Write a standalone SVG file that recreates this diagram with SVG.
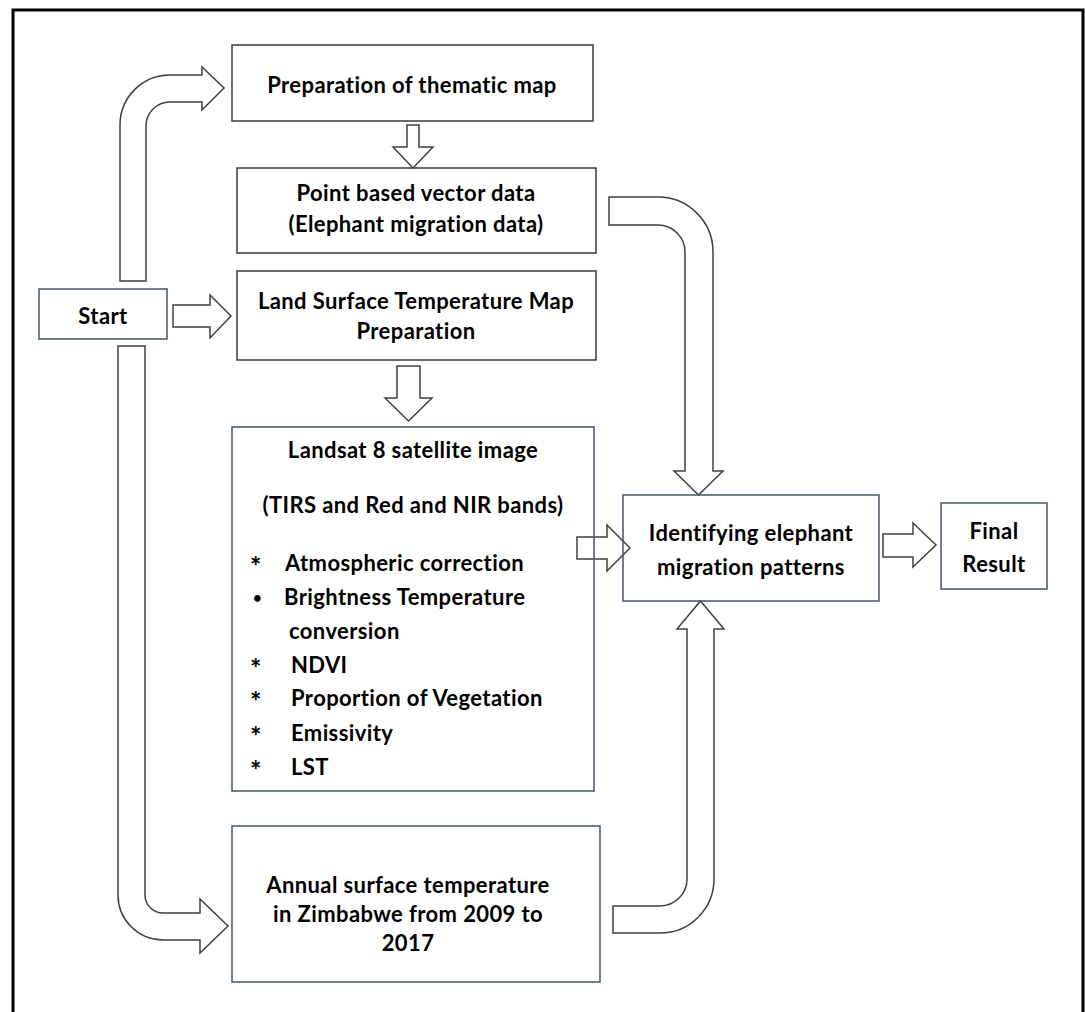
<svg xmlns="http://www.w3.org/2000/svg" width="1085" height="1012" viewBox="0 0 1085 1012">
<style>
.bg{fill:#ffffff}
.frame{fill:none;stroke:#000000;stroke-width:3}
.box{fill:none;stroke:#3a3a3a;stroke-width:1.5}
.boxb{fill:none;stroke:#44546a;stroke-width:1.5}
.arr{fill:#ffffff;stroke:#404040;stroke-width:1.5;stroke-linejoin:miter}
.arrn{fill:none;stroke:#404040;stroke-width:1.5}
text{font-family:Lato,"Open Sans","Liberation Sans",sans-serif;font-weight:700;font-size:22px;letter-spacing:0.4px;fill:#000000;font-variant-ligatures:none}
.c{text-anchor:middle}
.ast{font-size:27px}
.dot{font-size:15px}
</style>
<rect class="bg" x="0" y="0" width="1085" height="1012"/>
<rect class="frame" x="13" y="10" width="1070" height="1020"/>
<g id="connectors">
<path id="a-start-thematic" class="arr" d="M120,281 V125 A50,50 0 0 1 170,75 H202 V67 L224,88 L202,110 V102 H170 A24,24 0 0 0 146,126 V281 Z"/>
<path id="a-thematic-point" class="arr" d="M407,125 H419 V147 H433 L413,168 L393,147 H407 Z"/>
<path id="a-start-lst" class="arr" d="M173,305 H210 V295 L231,316 L210,338 V327 H173 Z"/>
<path id="a-lst-landsat" class="arr" d="M397,366 H420 V398 H432 L408.5,421 L385,398 H397 Z"/>
<path id="a-point-identify" class="arr" d="M609,197 H658 A55,55 0 0 1 713,252 V471 H723 L698.5,495 L674,471 H685 V252 A27,27 0 0 0 658,225 H609 Z"/>
<path id="a-landsat-identify" class="arrn" d="M577,537 H607 V525 L630,548 L607,571 V559 H577 Z"/>
<path id="a-identify-final" class="arr" d="M883,534 H913 V523 L936,545 L913,567 V557 H883 Z"/>
<path id="a-start-annual" class="arr" d="M118,346 V895 A45,45 0 0 0 163,940 H200 V953 L228,926 L200,899 V913 H163 A18,18 0 0 1 145,895 V346 Z"/>
<path id="a-annual-identify" class="arr" d="M613,906 H660 A27,27 0 0 0 687,879 V629 H677 L700.5,601 L724,629 H714 V879 A54,54 0 0 1 660,933 H613 Z"/>
</g>
<g id="node-thematic">
<rect class="box" x="232" y="45" width="361" height="76"/>
<text class="c" x="412" y="93">Preparation of thematic map</text>
</g>
<g id="node-point">
<rect class="box" x="237" y="168" width="359" height="85"/>
<text class="c" x="416" y="201">Point based vector data</text>
<text class="c" x="416" y="232">(Elephant migration data)</text>
</g>
<g id="node-start">
<rect class="boxb" x="39" y="289" width="128" height="50"/>
<text class="c" x="103" y="324">Start</text>
</g>
<g id="node-lst">
<rect class="box" x="237" y="271" width="359" height="89"/>
<text class="c" x="416" y="309">Land Surface Temperature Map</text>
<text class="c" x="416" y="339">Preparation</text>
</g>
<g id="node-landsat">
<rect class="boxb" x="232" y="427" width="362" height="364"/>
<text class="c" x="413" y="458">Landsat 8 satellite image</text>
<text class="c" x="413" y="513">(TIRS and Red and NIR bands)</text>
<text class="ast" x="250" y="576">*</text><text x="285" y="571">Atmospheric correction</text>
<text class="dot" x="253" y="603">•</text><text x="284" y="605">Brightness Temperature</text>
<text x="289" y="639">conversion</text>
<text class="ast" x="250" y="678">*</text><text x="291" y="673">NDVI</text>
<text class="ast" x="250" y="711">*</text><text x="291" y="706">Proportion of Vegetation</text>
<text class="ast" x="250" y="746">*</text><text x="291" y="741">Emissivity</text>
<text class="ast" x="250" y="780">*</text><text x="291" y="775">LST</text>
</g>
<g id="node-identify">
<rect class="boxb" x="623" y="495" width="256" height="106"/>
<text class="c" x="751" y="541">Identifying elephant</text>
<text class="c" x="751" y="575">migration patterns</text>
</g>
<g id="node-final">
<rect class="boxb" x="941" y="503" width="106" height="86"/>
<text class="c" x="994" y="539">Final</text>
<text class="c" x="994" y="572">Result</text>
</g>
<g id="node-annual">
<rect class="boxb" x="232" y="826" width="368" height="156"/>
<text class="c" x="408" y="893">Annual surface temperature</text>
<text class="c" x="408" y="922">in Zimbabwe from 2009 to</text>
<text class="c" x="408" y="951">2017</text>
</g>
</svg>
